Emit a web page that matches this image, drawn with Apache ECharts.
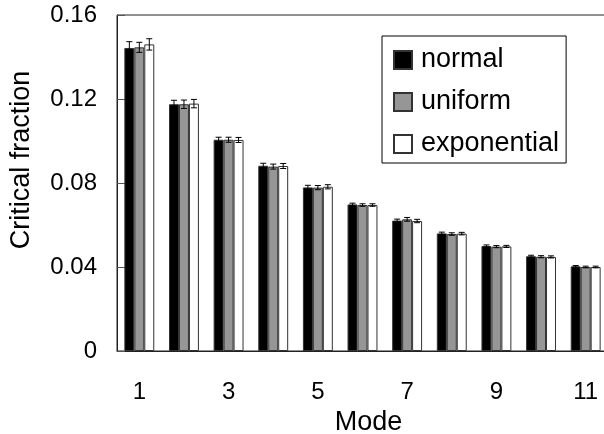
<!DOCTYPE html>
<html>
<head>
<meta charset="utf-8">
<title>Critical fraction by mode</title>
<script src="https://cdn.jsdelivr.net/npm/echarts@6/dist/echarts.min.js"></script>
<style>
  html, body { margin: 0; padding: 0; background: #fff; }
  #chart { width: 604px; height: 434px; }
</style>
</head>
<body>
<div id="chart"></div>
<script>
// Mode numbers on the x axis
const modes = ['1', '2', '3', '4', '5', '6', '7', '8', '9', '10', '11'];

// Mean critical fraction per distribution
const normalValues      = [0.1443, 0.1175, 0.1006, 0.0882, 0.0779, 0.0698, 0.0621, 0.0560, 0.0500, 0.0451, 0.0403];
const uniformValues     = [0.1446, 0.1175, 0.1006, 0.0878, 0.0778, 0.0695, 0.0627, 0.0557, 0.0497, 0.0449, 0.0400];
const exponentialValues = [0.1460, 0.1178, 0.1005, 0.0881, 0.0782, 0.0695, 0.0619, 0.0559, 0.0498, 0.0448, 0.0400];

// Error bar half-heights
const normalErrors      = [0.0030, 0.0019, 0.0012, 0.0012, 0.0010, 0.0006, 0.0007, 0.0006, 0.0005, 0.0005, 0.0004];
const uniformErrors     = [0.0024, 0.0020, 0.0012, 0.0012, 0.0010, 0.0006, 0.0009, 0.0006, 0.0005, 0.0005, 0.0004];
const exponentialErrors = [0.0027, 0.0020, 0.0012, 0.0012, 0.0010, 0.0006, 0.0008, 0.0006, 0.0005, 0.0005, 0.0004];

// y axis ticks
const yTicks = [0, 0.04, 0.08, 0.12, 0.16];

const FONT = 'Liberation Sans, Arial, sans-serif';
const CATEGORY_GAP = 0.33;

const seriesDefs = [
  { name: 'normal',      values: normalValues,      errors: normalErrors,      color: '#000000' },
  { name: 'uniform',     values: uniformValues,     errors: uniformErrors,     color: '#969696' },
  { name: 'exponential', values: exponentialValues, errors: exponentialErrors, color: '#ffffff' }
];

function errorBarSeries(def, k) {
  return {
    type: 'custom',
    name: def.name + ' error',
    z: 5,
    encode: { x: 0, y: 1 },
    data: def.values.map((v, i) => [i, v, def.errors[i]]),
    renderItem(params, api) {
      const i = api.value(0);
      const v = api.value(1);
      const e = api.value(2);
      const band = api.size([1, 0])[0];
      const bw = band * (1 - CATEGORY_GAP) / 3;
      const x = api.coord([i, v])[0] + (k - 1) * bw;
      const yHi = api.coord([i, v + e])[1];
      const yLo = api.coord([i, v - e])[1];
      const cap = 3;
      const style = { stroke: '#000', lineWidth: 1, fill: null };
      return {
        type: 'group',
        children: [
          { type: 'line', shape: { x1: x, y1: yHi, x2: x, y2: yLo }, style },
          { type: 'line', shape: { x1: x - cap, y1: yHi, x2: x + cap, y2: yHi }, style },
          { type: 'line', shape: { x1: x - cap, y1: yLo, x2: x + cap, y2: yLo }, style }
        ]
      };
    }
  };
}

const chart = echarts.init(document.getElementById('chart'), null, { renderer: 'canvas' });

chart.setOption({
  animation: false,
  backgroundColor: '#ffffff',
  textStyle: { fontFamily: FONT },
  grid: {
    left: 117, top: 15, right: -4, bottom: 83,
    outerBoundsMode: 'none',
    containLabel: false,
    show: true, borderColor: '#222', borderWidth: 1
  },
  legend: {
    orient: 'vertical',
    left: 382, top: 36,
    data: seriesDefs.map(d => d.name),
    icon: 'rect',
    itemWidth: 18, itemHeight: 18, itemGap: 12,
    padding: [9, 7, 4, 11],
    borderColor: '#000', borderWidth: 1,
    backgroundColor: '#fff',
    textStyle: { fontFamily: FONT, fontSize: 27, lineHeight: 30, color: '#000', padding: [0, 0, 0, 4] }
  },
  xAxis: {
    type: 'category',
    data: modes,
    name: 'Mode',
    nameLocation: 'middle',
    nameGap: 52,
    nameTextStyle: { fontFamily: FONT, fontSize: 27, color: '#000', padding: [0, 0, 0, 12] },
    axisLine: { lineStyle: { color: '#222', width: 1 } },
    axisTick: { inside: true, length: 8, interval: 0, lineStyle: { color: '#555' } },
    axisLabel: { interval: 1, margin: 29, fontSize: 24, color: '#000', fontFamily: FONT },
    splitLine: { show: false }
  },
  yAxis: {
    type: 'value',
    min: yTicks[0], max: yTicks[yTicks.length - 1], interval: 0.04,
    name: 'Critical fraction',
    nameLocation: 'middle',
    nameGap: 82,
    nameTextStyle: { fontFamily: FONT, fontSize: 27, color: '#000', padding: [0, 0, 0, 46] },
    axisLine: { show: true, lineStyle: { color: '#222', width: 1 } },
    axisTick: { show: true, inside: true, length: 8, lineStyle: { color: '#555' } },
    axisLabel: {
      margin: 20, fontSize: 24, color: '#000', fontFamily: FONT,
      padding: [4, 0, 0, 0],
      formatter: v => (v === 0 ? '0' : v.toFixed(2))
    },
    splitLine: { show: false }
  },
  series: seriesDefs.map(d => ({
    type: 'bar',
    name: d.name,
    data: d.values,
    barGap: '0%',
    barCategoryGap: (CATEGORY_GAP * 100) + '%',
    itemStyle: { color: d.color, borderColor: '#333', borderWidth: 1 }
  })).concat(seriesDefs.map((d, k) => errorBarSeries(d, k)))
});
</script>
</body>
</html>
